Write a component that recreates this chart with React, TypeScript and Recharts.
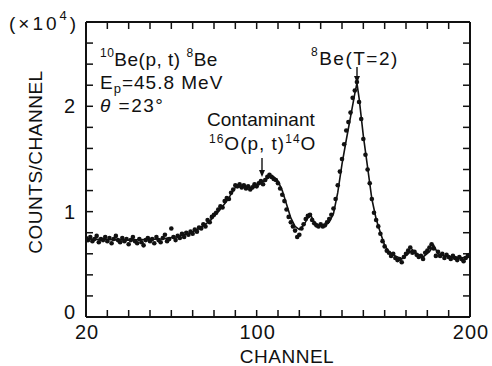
import React from "react";
import { ComposedChart, Scatter, Line, XAxis, YAxis } from "recharts";

// ---------- data (counts in units of 10^4) ----------
const FIRST_CHANNEL = 20;
const counts = [
  0.75, 0.73, 0.76, 0.72, 0.74, 0.77, 0.71, 0.74, 0.73, 0.76,
  0.72, 0.75, 0.7, 0.74, 0.77, 0.73, 0.71, 0.75, 0.72, 0.74,
  0.69, 0.73, 0.76, 0.72, 0.7, 0.74, 0.71, 0.68, 0.73, 0.75,
  0.72, 0.74, 0.7, 0.76, 0.73, 0.71, 0.75, 0.78, 0.72, 0.74,
  0.84, 0.76, 0.73, 0.77, 0.75, 0.79, 0.76, 0.8, 0.78, 0.81,
  0.79, 0.83, 0.81, 0.85, 0.84, 0.88, 0.86, 0.92, 0.9, 0.95,
  0.97, 0.99, 1.02, 1.05, 1.04, 1.1, 1.13, 1.12, 1.18, 1.21,
  1.25, 1.24, 1.26, 1.23, 1.25, 1.22, 1.24, 1.21, 1.23, 1.26,
  1.24, 1.27, 1.29, 1.26, 1.3, 1.33, 1.35, 1.33, 1.31, 1.3,
  1.27, 1.22, 1.16, 1.1, 1.02, 0.95, 0.9, 0.86, 0.82, 0.76,
  0.78, 0.84, 0.88, 0.93, 0.96, 0.97, 0.92, 0.89, 0.87, 0.86,
  0.88, 0.86, 0.87, 0.9, 0.93, 0.97, 1.03, 1.12, 1.25, 1.38,
  1.5, 1.64, 1.77, 1.85, 1.94, 2.08, 2.15, 2.23, 2.04, 1.88,
  1.69, 1.54, 1.4, 1.27, 1.12, 0.99, 0.92, 0.86, 0.79, 0.72,
  0.67, 0.63, 0.61, 0.58, 0.6, 0.56, 0.54, 0.55, 0.52, 0.57,
  0.6, 0.63, 0.66, 0.61, 0.62, 0.59, 0.57, 0.58, 0.55, 0.61,
  0.63, 0.66, 0.69, 0.65, 0.58, 0.62, 0.58, 0.6, 0.56, 0.59,
  0.57, 0.55, 0.58, 0.56, 0.54, 0.57, 0.55, 0.53, 0.56, 0.58,
  0.59,
];

const fitChannels = [
  20, 40, 55, 62, 68, 73, 78, 82, 86, 90, 94, 98, 102, 106, 108, 110, 112,
  114, 116, 118, 120, 122, 124, 125.5, 127, 129, 132, 134, 136, 138, 140,
  142, 144, 146, 147, 148, 150, 152, 154, 156, 158, 160, 162, 165, 168, 171,
  173, 175, 178, 181, 183, 185, 188, 192, 196, 200,
];
const fitCounts = [
  0.74, 0.73, 0.74, 0.76, 0.79, 0.84, 0.91, 1.0, 1.1, 1.23, 1.24, 1.22, 1.27,
  1.33, 1.33, 1.29, 1.2, 1.07, 0.94, 0.86, 0.83, 0.87, 0.94, 0.96, 0.9, 0.87,
  0.87, 0.9, 0.98, 1.18, 1.45, 1.68, 1.9, 2.12, 2.22, 2.08, 1.72, 1.42, 1.12,
  0.93, 0.8, 0.68, 0.62, 0.58, 0.55, 0.6, 0.64, 0.6, 0.57, 0.62, 0.68, 0.6,
  0.58, 0.57, 0.56, 0.58,
];

const xTicks = [20, 30, 40, 50, 60, 70, 80, 90, 100, 110, 120, 130, 140, 150, 160, 170, 180, 190, 200];
const yTicks = [0, 0.2, 0.4, 0.6, 0.8, 1, 1.2, 1.4, 1.6, 1.8, 2, 2.2, 2.4, 2.6, 2.8];
const xTickLabels = [20, 100, 200];
const yTickLabels = [0, 1, 2];

const points = counts.map((v, i) => ({ ch: FIRST_CHANNEL + i, v }));
const fit = fitChannels.map((ch, i) => ({ ch, v: fitCounts[i] }));

// ---------- styling ----------
const W = 492;
const H = 366;
const FONT = '"Liberation Sans", Arial, Helvetica, sans-serif';
const TICK = 7;
const INK = "#111";

function BottomTick(props: any) {
  const { x, y, payload } = props;
  const show = xTickLabels.includes(payload.value);
  return (
    <g>
      <line x1={x} y1={y} x2={x} y2={y - TICK} stroke={INK} strokeWidth={1.5} />
      {show && (
        <text x={x + 1} y={y + 22} textAnchor="middle" fontSize={20} letterSpacing={1} fontFamily={FONT} fill={INK}>
          {payload.value}
        </text>
      )}
    </g>
  );
}

function TopTick(props: any) {
  const { x, y } = props;
  return <line x1={x} y1={y} x2={x} y2={y + TICK} stroke={INK} strokeWidth={1.5} />;
}

function LeftTick(props: any) {
  const { x, y, payload } = props;
  const show = yTickLabels.includes(payload.value);
  const shift = payload.value === 0 ? -5 : 0;
  return (
    <g>
      <line x1={x} y1={y} x2={x + TICK} y2={y} stroke={INK} strokeWidth={1.5} />
      {show && (
        <text x={x - 11} y={y + 7 + shift} textAnchor="end" fontSize={20} fontFamily={FONT} fill={INK}>
          {payload.value}
        </text>
      )}
    </g>
  );
}

function RightTick(props: any) {
  const { x, y } = props;
  return <line x1={x} y1={y} x2={x - TICK} y2={y} stroke={INK} strokeWidth={1.5} />;
}

const Dot = (p: any) => <circle cx={p.cx} cy={p.cy} r={2.3} fill={INK} />;

function Arrow({ x, y1, y2 }: { x: number; y1: number; y2: number }) {
  return (
    <g>
      <line x1={x} y1={y1} x2={x} y2={y2 - 5} stroke={INK} strokeWidth={1.4} />
      <polygon points={`${x - 3},${y2 - 7} ${x + 3},${y2 - 7} ${x},${y2}`} fill={INK} />
    </g>
  );
}

export default function App() {
  const axisLine = { stroke: INK, strokeWidth: 2 };
  return (
    <div style={{ position: "absolute", left: 0, top: 0, width: W, height: H, background: "#fff" }}>
      <ComposedChart width={W} height={H} margin={{ top: 20, right: 20, bottom: 0, left: 0 }}>
        <XAxis
          xAxisId="bottom"
          orientation="bottom"
          type="number"
          dataKey="ch"
          domain={[20, 200]}
          ticks={xTicks}
          interval={0}
          height={49}
          tickSize={0}
          tickMargin={0}
          axisLine={axisLine}
          tickLine={false}
          tick={BottomTick}
          allowDataOverflow
        />
        <XAxis
          xAxisId="top"
          orientation="top"
          type="number"
          dataKey="ch"
          domain={[20, 200]}
          ticks={xTicks}
          interval={0}
          height={2}
          tickSize={0}
          tickMargin={0}
          axisLine={axisLine}
          tickLine={false}
          tick={TopTick}
          allowDataOverflow
        />
        <YAxis
          yAxisId="left"
          orientation="left"
          type="number"
          dataKey="v"
          domain={[0, 2.8]}
          ticks={yTicks}
          interval={0}
          width={86}
          tickSize={0}
          tickMargin={0}
          axisLine={axisLine}
          tickLine={false}
          tick={LeftTick}
          allowDataOverflow
        />
        <YAxis
          yAxisId="right"
          orientation="right"
          type="number"
          dataKey="v"
          domain={[0, 2.8]}
          ticks={yTicks}
          interval={0}
          width={2}
          tickSize={0}
          tickMargin={0}
          axisLine={axisLine}
          tickLine={false}
          tick={RightTick}
          allowDataOverflow
        />
        <Line
          xAxisId="top"
          yAxisId="right"
          data={fit}
          dataKey="v"
          type="linear"
          stroke={INK}
          strokeWidth={1.6}
          dot={false}
          activeDot={false}
          isAnimationActive={false}
        />
        <Scatter
          xAxisId="bottom"
          yAxisId="left"
          data={points}
          dataKey="v"
          shape={Dot}
          isAnimationActive={false}
        />
      </ComposedChart>
      <svg
        width={W}
        height={H}
        style={{ position: "absolute", left: 0, top: 0, pointerEvents: "none" }}
        fontFamily={FONT}
        fill={INK}
      >
        <text x={9} y={30} fontSize={19} letterSpacing={3}>
          (×10<tspan fontSize={13} dy={-10}>4</tspan>
          <tspan dy={10}>)</tspan>
        </text>
        <text x={42} y={162} fontSize={19} letterSpacing={0.5} textAnchor="middle" transform="rotate(-90 42 162)">
          COUNTS/CHANNEL
        </text>
        <text x={287} y={363} fontSize={19} letterSpacing={0.5} textAnchor="middle">
          CHANNEL
        </text>
        <text x={100} y={66} fontSize={19} letterSpacing={0.5}>
          <tspan fontSize={12} dy={-9}>10</tspan>
          <tspan dy={9}>Be(p, t) </tspan>
          <tspan fontSize={12} dy={-9}>8</tspan>
          <tspan dy={9}>Be</tspan>
        </text>
        <text x={100} y={89} fontSize={19} letterSpacing={1}>
          E<tspan fontSize={13} dy={4}>p</tspan>
          <tspan dy={-4}>=45.8 MeV</tspan>
        </text>
        <text x={100} y={112} fontSize={19} letterSpacing={1.5}>
          <tspan fontStyle="italic">θ</tspan> =23°
        </text>
        <text x={207} y={126} fontSize={19}>
          Contaminant
        </text>
        <text x={209} y={150} fontSize={19} letterSpacing={1}>
          <tspan fontSize={12} dy={-7}>16</tspan>
          <tspan dy={7}>O(p, t)</tspan>
          <tspan fontSize={12} dy={-7}>14</tspan>
          <tspan dy={7}>O</tspan>
        </text>
        <Arrow x={262} y1={158} y2={177} />
        <text x={311} y={65} fontSize={19} letterSpacing={1.5}>
          <tspan fontSize={12} dy={-9}>8</tspan>
          <tspan dy={9}>Be(T=2)</tspan>
        </text>
        <Arrow x={357} y1={67} y2={83} />
      </svg>
    </div>
  );
}
